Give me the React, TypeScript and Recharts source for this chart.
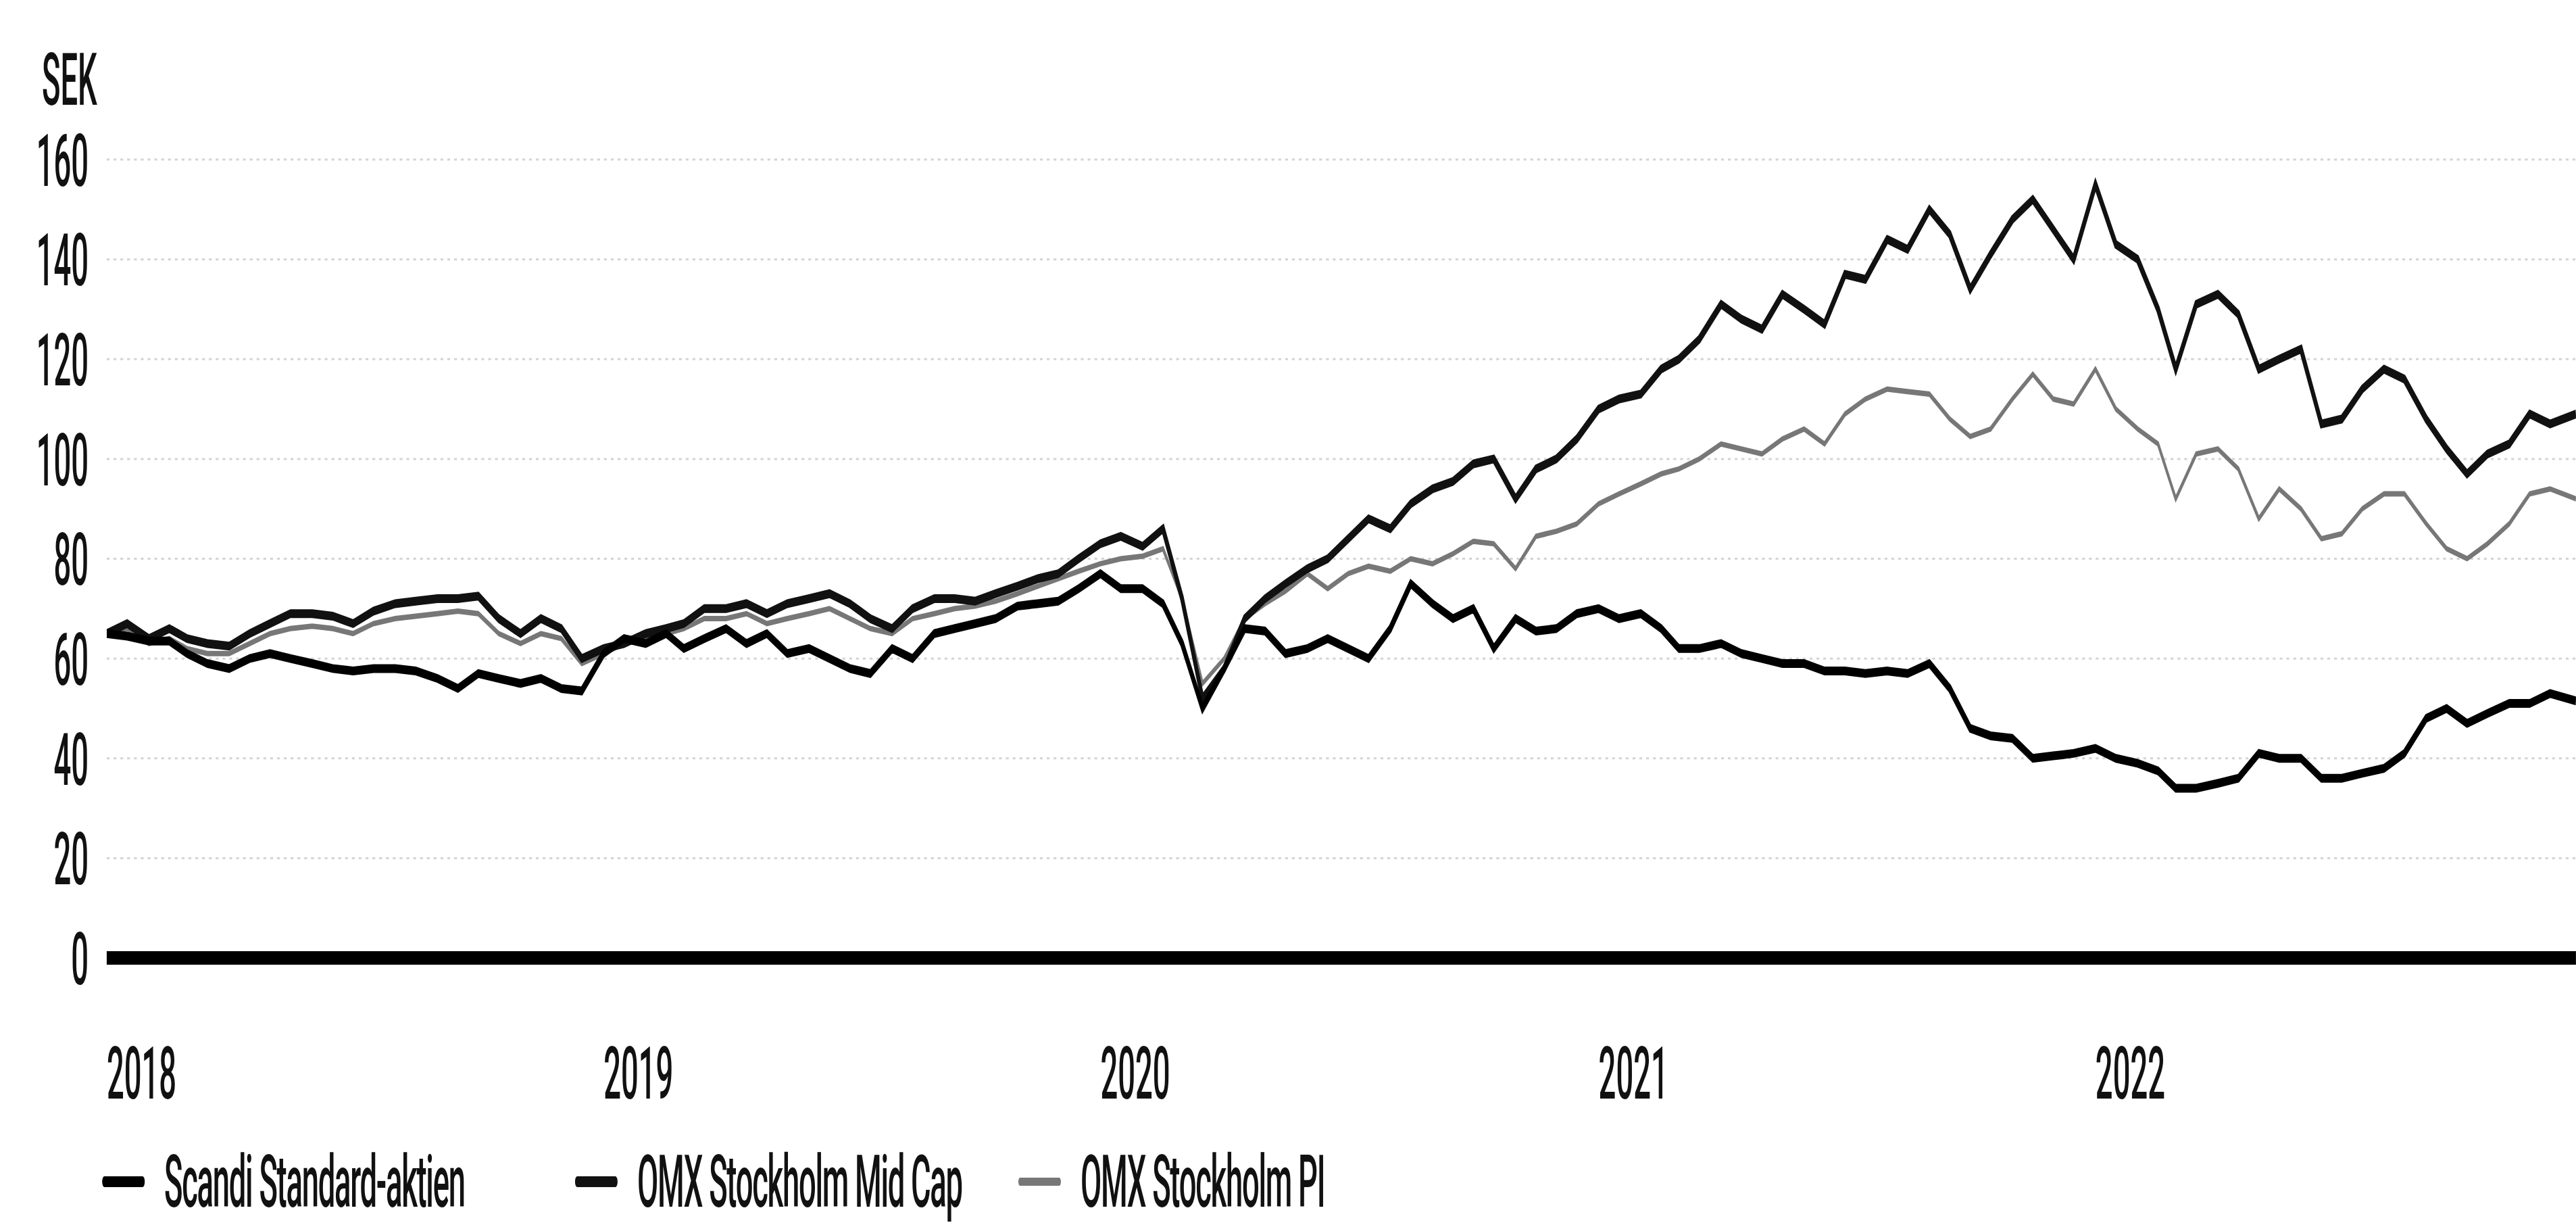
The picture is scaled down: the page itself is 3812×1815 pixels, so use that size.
import React from 'react';
import { LineChart, Line, XAxis, YAxis, CartesianGrid } from 'recharts';

// Half-monthly closing values (Jan 2018 - Dec 2022)
const years = [2018, 2019, 2020, 2021, 2022];
const days = ['01', '16'];

const scandiStandard = [
    65, 64.5, 63.5, 63.5, 61, 59, 58, 60, 61, 60, 59, 58, 57.5, 58, 58, 57.5, 56, 54, 57, 56, 55, 56, 54, 53.5,
    61, 64, 63, 65, 62, 64, 66, 63, 65, 61, 62, 60, 58, 57, 62, 60, 65, 66, 67, 68, 70.5, 71, 71.5, 74,
    77, 74, 74, 71, 63, 50, 58, 66, 65.5, 61, 62, 64, 62, 60, 66, 75, 71, 68, 70, 62, 68, 65.5, 66, 69,
    70, 68, 69, 66, 62, 62, 63, 61, 60, 59, 59, 57.5, 57.5, 57, 57.5, 57, 59, 54, 46, 44.5, 44, 40, 40.5, 41,
    42, 40, 39, 37.5, 34, 34, 35, 36, 41, 40, 40, 36, 36, 37, 38, 41, 48, 50, 47, 49, 51, 51, 53, 51.5,
];

const omxMidCap = [
    65, 67, 64, 66, 64, 63, 62.5, 65, 67, 69, 69, 68.5, 67, 69.5, 71, 71.5, 72, 72, 72.5, 68, 65, 68, 66, 60,
    62, 63, 65, 66, 67, 70, 70, 71, 69, 71, 72, 73, 71, 68, 66, 70, 72, 72, 71.5, 73, 74.5, 76, 77, 80,
    83, 84.5, 82.5, 86, 72, 52, 58, 68, 72, 75, 78, 80, 84, 88, 86, 91, 94, 95.5, 99, 100, 92, 98, 100, 104,
    110, 112, 113, 118, 120, 124, 131, 128, 126, 133, 130, 127, 137, 136, 144, 142, 150, 145, 134, 141, 148, 152, 146, 140,
    155, 143, 140, 130, 118, 131, 133, 129, 118, 120, 122, 107, 108, 114, 118, 116, 108, 102, 97, 101, 103, 109, 107, 109,
];

const omxPI = [
    65, 66, 63, 64, 62, 61, 61, 63, 65, 66, 66.5, 66, 65, 67, 68, 68.5, 69, 69.5, 69, 65, 63, 65, 64, 59,
    61, 63, 64, 65, 66, 68, 68, 69, 67, 68, 69, 70, 68, 66, 65, 68, 69, 70, 70.5, 71.5, 73, 74.5, 76, 77.5,
    79, 80, 80.5, 82, 72, 55, 60, 68, 71, 73.5, 77, 74, 77, 78.5, 77.5, 80, 79, 81, 83.5, 83, 78, 84.5, 85.5, 87,
    91, 93, 95, 97, 98, 100, 103, 102, 101, 104, 106, 103, 109, 112, 114, 113.5, 113, 108, 104.5, 106, 112, 117, 112, 111,
    118, 110, 106, 103, 92, 101, 102, 98, 88, 94, 90, 84, 85, 90, 93, 93, 87, 82, 80, 83, 87, 93, 94, 92,
];

const yTicks = [0, 20, 40, 60, 80, 100, 120, 140, 160];
const seriesNames = ['Scandi Standard-aktien', 'OMX Stockholm Mid Cap', 'OMX Stockholm PI'];

const dates: string[] = [];
years.forEach((y) => {
    for (let m = 1; m <= 12; m++) {
        days.forEach((d) => dates.push(`${y}-${String(m).padStart(2, '0')}-${d}`));
    }
});
dates[dates.length - 1] = '2022-12-20';

const rows = dates.map((d, i) => ({
    t: Date.parse(d),
    scandi: scandiStandard[i],
    midcap: omxMidCap[i],
    pi: omxPI[i],
}));

const yearTicks = years.map((y) => Date.UTC(y, 0, 1));
const T0 = Date.UTC(2018, 0, 1);
const T1 = Date.UTC(2022, 11, 20);

// the reference text is very narrow, so the whole chart is drawn wide and squeezed
const K = 0.42;
const W = Math.round(3812 / K);
const px = (v: number) => v / K;
const FONT = 'Roboto, "Noto Sans", sans-serif';
const FS = 108;

const YTick = ({ x, y, payload }: any) => (
    <text x={x} y={y} dy="0.36em" textAnchor="end" fontFamily={FONT} fontSize={FS} fontWeight={500} fill="#111">
        {payload.value}
    </text>
);

const XTick = ({ x, y, payload }: any) => (
    <text x={x} y={y} dy="0.72em" textAnchor="start" fontFamily={FONT} fontSize={FS} fontWeight={500} fill="#111">
        {new Date(payload.value).getUTCFullYear()}
    </text>
);

const legendItems = [
    { name: seriesNames[0], color: '#000', h: 16, left: 151 },
    { name: seriesNames[1], color: '#111', h: 16, left: 851 },
    { name: seriesNames[2], color: '#777', h: 12, left: 1507 },
];

export default function App() {
    return (
        <div style={{ position: 'absolute', left: 0, top: 0, width: 3812, height: 1815, overflow: 'hidden', background: '#fff' }}>
            <div style={{ width: W, height: 1815, transform: `scaleX(${K})`, transformOrigin: '0 0', position: 'relative' }}>
                {/* unit label */}
                <div style={{ position: 'absolute', left: px(62), top: 58, fontFamily: FONT, fontSize: FS, fontWeight: 500, lineHeight: '120px', color: '#111' }}>
                    SEK
                </div>

                <LineChart width={W} height={1690} data={rows} margin={{ top: 236, right: 0, bottom: 0, left: 0 }}>
                    <CartesianGrid vertical={false} stroke="#d4d4d4" strokeWidth={3} strokeDasharray="10 14" />
                    <XAxis
                        dataKey="t"
                        type="number"
                        domain={[T0, T1]}
                        ticks={yearTicks}
                        tick={<XTick />}
                        tickLine={false}
                        tickSize={0}
                        tickMargin={130}
                        axisLine={{ stroke: '#000', strokeWidth: 20 }}
                        height={273}
                        allowDataOverflow
                    />
                    <YAxis
                        domain={[0, 160]}
                        ticks={yTicks}
                        width={Math.round(px(158))}
                        axisLine={false}
                        tickLine={false}
                        tickSize={0}
                        tickMargin={Math.round(px(158) - px(131))}
                        tick={<YTick />}
                    />
                    <Line dataKey="pi" name={seriesNames[2]} type="linear" stroke="#777" strokeWidth={8} dot={false} isAnimationActive={false} />
                    <Line dataKey="midcap" name={seriesNames[1]} type="linear" stroke="#111" strokeWidth={13} dot={false} isAnimationActive={false} />
                    <Line dataKey="scandi" name={seriesNames[0]} type="linear" stroke="#000" strokeWidth={13} dot={false} isAnimationActive={false} />
                </LineChart>

                {/* legend */}
                {legendItems.map((it) => (
                    <div
                        key={it.name}
                        style={{ position: 'absolute', left: px(it.left), top: 1688, height: 120, display: 'flex', alignItems: 'center' }}
                    >
                        <div style={{ width: px(63), height: it.h, borderRadius: it.h / 2, background: it.color }} />
                        <span style={{ marginLeft: px(29), fontFamily: FONT, fontSize: FS, fontWeight: 500, color: '#111', whiteSpace: 'nowrap', letterSpacing: -3 }}>
                            {it.name}
                        </span>
                    </div>
                ))}
            </div>
        </div>
    );
}
